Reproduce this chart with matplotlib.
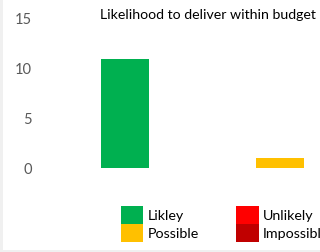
import matplotlib
matplotlib.use("Agg")
import matplotlib.pyplot as plt
from matplotlib.patches import Rectangle

# data
categories = ["Likley", "Possible", "Unlikely", "Impossible"]
values = [11, 1, 0, 0]
colors = ["#00B050", "#FFC000", "#FF0000", "#C00000"]
yticks = [0, 5, 10, 15]
title = "Likelihood to deliver within budget"

plt.rcParams["font.family"] = ["Lato", "DejaVu Sans"]

W, H = 320, 252
fig = plt.figure(figsize=(W / 100, H / 100), dpi=100)

# axes: x runs past the right edge (the chart is cropped)
ax_left, ax_bottom, ax_top = 47.5, 168, 19
ax = fig.add_axes([ax_left / W, (H - ax_bottom) / H,
                   620 / W, (ax_bottom - ax_top) / H])

for i, (cat, v, c) in enumerate(zip(categories, values, colors)):
    ax.bar(i, v, width=0.316, color=c, label=cat)

ax.set_xlim(-0.5, 3.5)
ax.set_ylim(0, 15)
ax.set_yticks(yticks)
ax.set_xticks([])
for s in ax.spines.values():
    s.set_visible(False)
ax.tick_params(axis="y", length=0, pad=11, labelsize=10.5, labelcolor="#595959")

fig.text(208 / W, 1 - 15 / H, title, ha="center", va="center",
         fontsize=10.2, color="black")

handles, labels = ax.get_legend_handles_labels()
fig.legend(handles, labels, ncol=2, loc="upper left",
           bbox_to_anchor=(121 / W, 1 - 206 / H), frameon=False,
           fontsize=10.3, handlelength=1.55, handleheight=1.55,
           handletextpad=0.33, labelspacing=0.0, columnspacing=2.6,
           borderpad=0, borderaxespad=0)

# light grey frame strips from the surrounding sheet
fig.add_artist(Rectangle((0, 0), 3 / W, 1, transform=fig.transFigure,
                         color="#f0f0f0", lw=0))
fig.add_artist(Rectangle((0, 0), 1, 2 / H, transform=fig.transFigure,
                         color="#f0f0f0", lw=0))

fig.savefig("out.png", dpi=100)
